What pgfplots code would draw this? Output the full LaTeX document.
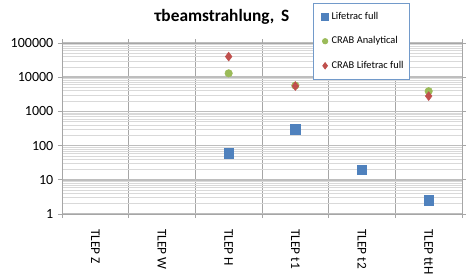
\documentclass[border=0pt]{standalone}
\usepackage{fontspec}
\setmainfont{Carlito}
\usepackage{pgfplots}
\pgfplotsset{compat=1.18}
\usetikzlibrary{calc}
\definecolor{cblue}{RGB}{79,129,189}
\definecolor{cgreen}{RGB}{155,187,89}
\definecolor{cred}{RGB}{192,80,77}
\definecolor{gmaj}{RGB}{190,190,190}
\definecolor{gmin}{RGB}{217,217,217}
\definecolor{gvert}{RGB}{166,166,166}
\begin{document}
\begin{tikzpicture}
\begin{axis}[
  name=ax,
  ymode=log,
  scale only axis,
  width=300pt, height=128.25pt,
  xmin=-0.5, xmax=5.5,
  ymin=1, ymax=100000,
  xtick={0,1,2,3,4,5},
  xticklabels={TLEP Z,TLEP W,TLEP H,TLEP t1,TLEP t2,TLEP ttH},
  minor xtick={-0.5,0.5,1.5,2.5,3.5,4.5,5.5},
  ytick={1,10,100,1000,10000,100000},
  yticklabels={1,10,100,1000,10000,100000},
  minor ytick={2,3,4,5,6,7,8,9,20,30,40,50,60,70,80,90,200,300,400,500,600,700,800,900,2000,3000,4000,5000,6000,7000,8000,9000,20000,30000,40000,50000,60000,70000,80000,90000},
  tick align=outside,
  major tick length=3pt,
  minor tick length=3pt,
  major x tick style={draw=none},
  minor y tick style={draw=none},
  tick style={gvert, line width=0.6pt},
  ymajorgrids=true,
  yminorgrids=true,
  xminorgrids=true,
  xmajorgrids=false,
  major y grid style={draw=gmaj, line width=1.3pt},
  minor y grid style={draw=gmin, line width=0.5pt},
  minor x grid style={draw=gvert, line width=0.7pt},
  axis line style={draw=gvert, line width=0.7pt},
  x tick label style={rotate=-90, anchor=west, font=\fontsize{10}{12}\selectfont, xshift=0pt},
  xticklabel shift=5pt,
  y tick label style={font=\fontsize{10.5}{12}\selectfont},
  legend cell align=left,
  legend style={at={(0.6275,1.234)}, anchor=north west,
    draw=cblue!80, line width=0.6pt,
    font=\fontsize{7.8}{9.4}\selectfont,
    row sep=7.5pt, inner xsep=4pt, inner ysep=4.5pt,
    nodes={inner xsep=0.5pt}},
  legend image code/.code={\path (-4.5pt,0pt) (4pt,0pt);\draw[#1,mark options={scale=0.72}] plot coordinates {(0pt,0pt)};},
]
\addplot[only marks, mark=square*, mark size=3.5pt, draw=cblue, fill=cblue] coordinates {(2,60) (3,300) (4,20) (5,2.5)};
\addlegendentry{Lifetrac full}
\addplot[only marks, mark=*, mark size=2.8pt, draw=cgreen, fill=cgreen] coordinates {(2,13000) (3,5700) (5,3900)};
\addlegendentry{CRAB Analytical}
\addplot[only marks, mark=diamond*, mark size=3.3pt, draw=cred, fill=cred] coordinates {(2,40000) (3,5500) (5,2800)};
\addlegendentry{CRAB Lifetrac full}
\end{axis}
\node[font=\bfseries\fontsize{13}{15}\selectfont, inner sep=0pt] at ($(ax.south west)+(120pt,147.75pt)$) {τbeamstrahlung,\, S};
\pgfresetboundingbox
\path ($(ax.south west)+(-46.5pt,-44.25pt)$) rectangle ($(ax.south west)+(306.75pt,160.5pt)$);
\end{tikzpicture}
\end{document}
